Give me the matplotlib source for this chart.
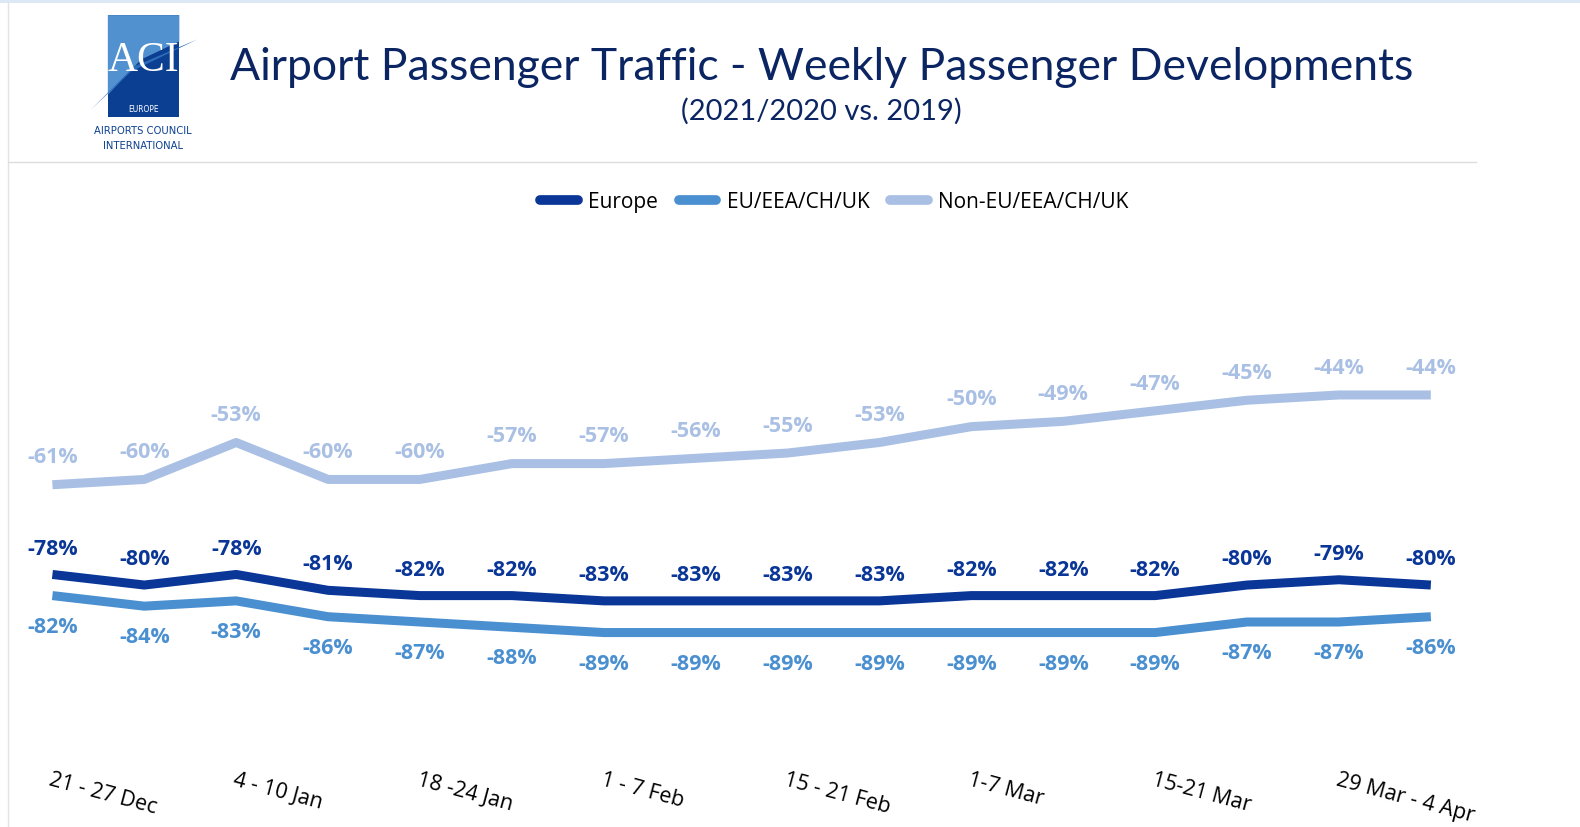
import matplotlib.pyplot as plt
from matplotlib.patches import Rectangle, Polygon
from matplotlib.lines import Line2D

plt.rcParams['font.family'] = ['Lato', 'DejaVu Sans']

weeks = ["21 - 27 Dec", "", "4 - 10 Jan", "", "18 -24 Jan", "", "1 - 7 Feb", "",
         "15 - 21 Feb", "", "1-7 Mar", "", "15-21 Mar", "", "29 Mar - 4 Apr", ""]
europe = [-78, -80, -78, -81, -82, -82, -83, -83, -83, -83, -82, -82, -82, -80, -79, -80]
eu = [-82, -84, -83, -86, -87, -88, -89, -89, -89, -89, -89, -89, -89, -87, -87, -86]
non_eu = [-61, -60, -53, -60, -60, -57, -57, -56, -55, -53, -50, -49, -47, -45, -44, -44]

c_europe = "#0a3697"
c_eu = "#4a8fd0"
c_non = "#a9c0e4"
navy = "#0b2563"

W, H = 1580, 828
S = 1580 / 1568  # measurements were taken on the shrunk preview
fig = plt.figure(figsize=(W / 100, H / 100), dpi=100)


def fx(px):
    return px * S / W


def fy(py):
    return 1 - py * S / H


# frame bits
fig.add_artist(Rectangle((0, 1 - 4 / H), 1, 4 / H, transform=fig.transFigure, color="#dce8f3", lw=0))
fig.add_artist(Line2D([fx(8), fx(8)], [0, 1 - 4 / H], transform=fig.transFigure, color="#e3e3e3", lw=1))
fig.add_artist(Line2D([fx(8), fx(1465)], [fy(162), fy(162)], transform=fig.transFigure, color="#dcdcdc", lw=1))

# logo
fig.add_artist(Rectangle((fx(107), fy(117)), fx(178) - fx(107), fy(16) - fy(117),
                         transform=fig.transFigure, color="#0b3f91", lw=0))
fig.add_artist(Polygon([(fx(107), fy(16)), (fx(178), fy(16)), (fx(178), fy(42)),
                        (fx(140), fy(60)), (fx(107), fy(95))],
                       transform=fig.transFigure, color="#5291d0", lw=0))
fig.text(fx(142), fy(60), "ACI", color="white", fontsize=30, family="Liberation Serif",
         ha="center", va="center")
fig.add_artist(Polygon([(fx(90), fy(110)), (fx(130), fy(72)), (fx(196), fy(40)),
                        (fx(133), fy(67))],
                       transform=fig.transFigure, color="#2d6cb8", lw=0))
fig.text(fx(142), fy(109), "EUROPE", color="white", fontsize=6, ha="center", va="center",
         family="DejaVu Sans", fontstretch="condensed")
fig.text(fx(142), fy(130), "AIRPORTS COUNCIL", color="#0b3f91", fontsize=8, ha="center", va="center",
         family="DejaVu Sans", fontstretch="condensed")
fig.text(fx(142), fy(145), "INTERNATIONAL", color="#0b3f91", fontsize=8, ha="center", va="center",
         family="DejaVu Sans", fontstretch="condensed")

fig.text(fx(815), fy(67), "Airport Passenger Traffic - Weekly Passenger Developments",
         color=navy, fontsize=32, ha="center", va="center")
fig.text(fx(815), fy(110), "(2021/2020 vs. 2019)", color=navy, fontsize=21, ha="center", va="center")

# plot
ax = fig.add_axes([fx(20), fy(760), fx(1460) - fx(20), fy(230) - fy(760)])
x = list(range(len(weeks)))
ax.plot(x, europe, color=c_europe, lw=6.5, solid_capstyle="butt", label="Europe", zorder=3)
ax.plot(x, eu, color=c_eu, lw=6.5, solid_capstyle="butt", label="EU/EEA/CH/UK", zorder=3)
ax.plot(x, non_eu, color=c_non, lw=6.5, solid_capstyle="butt", label="Non-EU/EEA/CH/UK", zorder=3)

lab = dict(ha="center", va="center", fontsize=15.5, fontweight="bold",
           family=["Open Sans", "DejaVu Sans"], textcoords="offset points")
for i in x:
    ax.annotate(f"{europe[i]}%", (i, europe[i]), xytext=(0, 19), color=c_europe, **lab)
    ax.annotate(f"{eu[i]}%", (i, eu[i]), xytext=(0, -22), color=c_eu, **lab)
    ax.annotate(f"{non_eu[i]}%", (i, non_eu[i]), xytext=(0, 20), color=c_non, **lab)

ax.set_xlim(-0.351, 15.439)
ax.set_ylim(-114.05, -12.9)
ax.set_yticks([])
ax.set_xticks(x)
ax.set_xticklabels(weeks, rotation=-15, rotation_mode="anchor", ha="left", va="top",
                   fontsize=15.5, family=["Open Sans", "DejaVu Sans"])
ax.tick_params(axis="x", length=0, pad=3)
for s in ax.spines.values():
    s.set_visible(False)
ax.patch.set_alpha(0)

handles = [Line2D([], [], color=c, lw=7, solid_capstyle="round") for c in (c_europe, c_eu, c_non)]
fig.legend(handles, ["Europe", "EU/EEA/CH/UK", "Non-EU/EEA/CH/UK"], loc="center",
           bbox_to_anchor=(fx(828), fy(201)), ncol=3, frameon=False,
           handlelength=1.8, handletextpad=0.5, columnspacing=1.0,
           prop={"family": ["Open Sans", "DejaVu Sans"], "size": 15})

fig.savefig("out.png", dpi=100)
